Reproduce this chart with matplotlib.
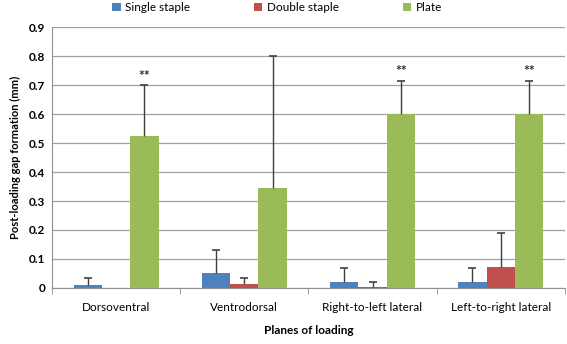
import numpy as np
import matplotlib
matplotlib.use("Agg")
from matplotlib import pyplot as plt

# planes of loading and gap formation values (mm)
planes = ["Dorsoventral", "Ventrodorsal", "Right-to-left lateral", "Left-to-right lateral"]
single_staple = [0.010, 0.050, 0.020, 0.020]
single_err = [0.025, 0.080, 0.050, 0.050]
double_staple = [0.000, 0.013, 0.004, 0.073]
double_err = [0.000, 0.022, 0.016, 0.117]
plate = [0.525, 0.345, 0.600, 0.600]
plate_err = [0.175, 0.455, 0.115, 0.115]
significant = [True, False, True, True]

plt.rcParams['font.family'] = ['Lato', 'DejaVu Sans']

fig = plt.figure(figsize=(5.67, 3.44), dpi=100)
ax = fig.add_axes([0.092, 0.163, 0.904, 0.758])

x = np.arange(len(planes))
w = 0.22

series = [
    (single_staple, single_err, '#4F81BD', 'Single staple', -w),
    (double_staple, double_err, '#C0504D', 'Double staple', 0),
    (plate, plate_err, '#9BBB59', 'Plate', w),
]
for vals, errs, col, lab, off in series:
    ax.bar(x + off, vals, w, color=col, label=lab, zorder=3)
    # upper error bars only, cap on top
    vals = np.array(vals)
    errs = np.array(errs)
    keep = errs > 0
    xs = (x + off)[keep]
    ax.vlines(xs, vals[keep], vals[keep] + errs[keep], color='#404040',
              linewidth=1, zorder=4)
    ax.plot(xs, vals[keep] + errs[keep], linestyle='none', marker='_',
            markersize=6, markeredgewidth=1.2, color='#404040', zorder=4)

for i, sig in enumerate(significant):
    if sig:
        ax.text(x[i] + w, plate[i] + plate_err[i] + 0.012, '**', ha='center',
                va='bottom', fontsize=10, fontweight='bold', color='#333333')

ax.set_xlim(-0.5, len(planes) - 0.5)
ax.set_ylim(0, 0.9)
ax.set_yticks(np.arange(0, 0.91, 0.1))
ax.set_yticklabels(['0'] + ['%.1f' % v for v in np.arange(0.1, 0.91, 0.1)])
ax.yaxis.grid(True, color='#a0a0a0', linewidth=0.9, zorder=0)
ax.set_axisbelow(True)

ax.set_xticks(x)
ax.set_xticklabels(planes)
ax.set_xticks(np.arange(-0.5, len(planes), 1.0), minor=True)
ax.tick_params(axis='x', which='major', length=0, pad=10, labelsize=8.5)
ax.tick_params(axis='x', which='minor', length=4, color='#909090')
ax.tick_params(axis='y', length=0, pad=5, labelsize=8.5)
for lbl in ax.get_yticklabels():
    lbl.set_fontweight('bold')

for s in ['top', 'right']:
    ax.spines[s].set_visible(False)
ax.spines['left'].set_color('#909090')
ax.spines['bottom'].set_color('#909090')

ax.set_xlabel('Planes of loading', fontweight='bold', fontsize=8.5, labelpad=9)
ax.set_ylabel('Post-loading gap formation (mm)', fontweight='bold', fontsize=8, labelpad=6)

handles, labels = ax.get_legend_handles_labels()
fig.legend(handles, labels, loc='center', bbox_to_anchor=(0.489, 0.978), ncol=3,
           frameon=False, fontsize=8.5, handlelength=0.7, handleheight=0.7,
           columnspacing=5.4, handletextpad=0.4)

fig.savefig('out.png', dpi=100)
